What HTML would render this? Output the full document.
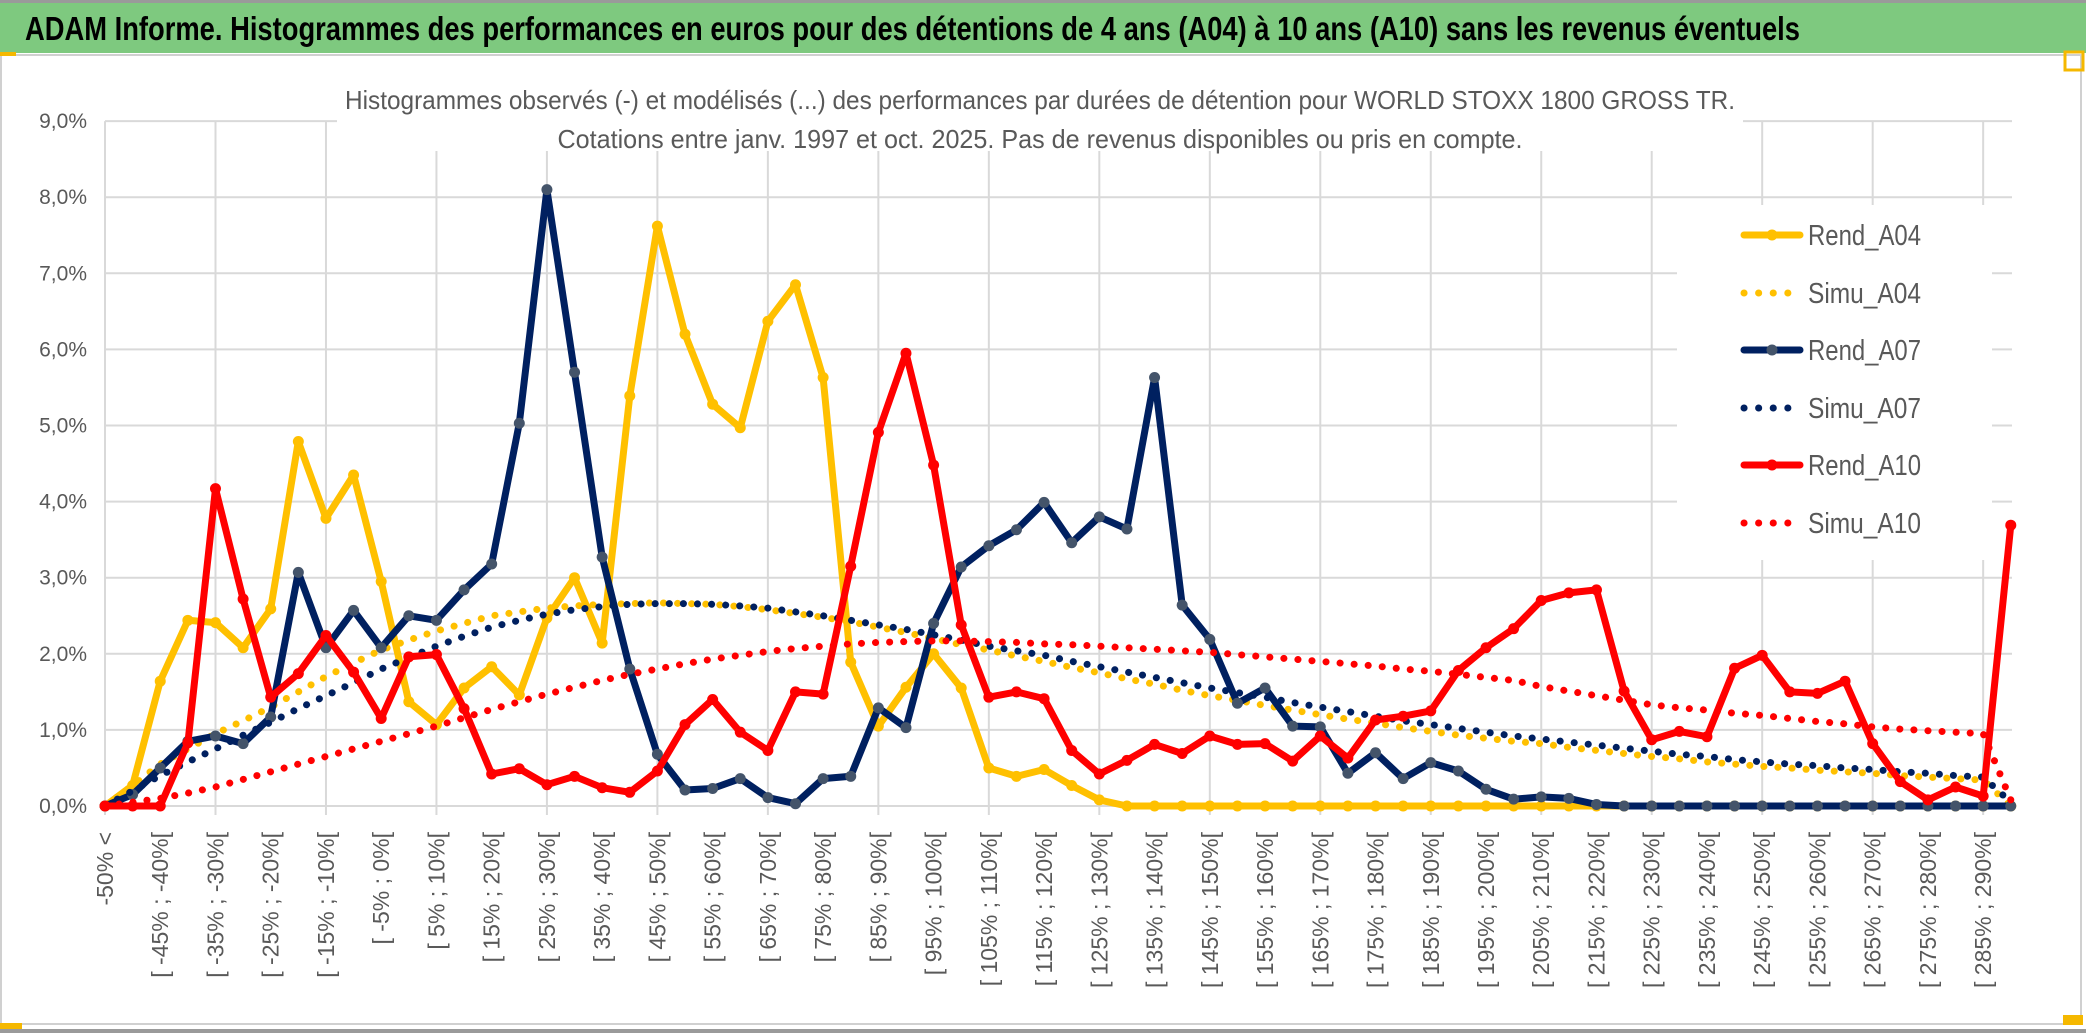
<!DOCTYPE html>
<html><head><meta charset="utf-8"><style>
html,body{margin:0;padding:0;background:#fff;}
svg{display:block;font-family:"Liberation Sans",sans-serif;}
</style></head><body>
<svg id="chart" width="2086" height="1033" viewBox="0 0 2086 1033">
  <rect x="0" y="0" width="2086" height="1033" fill="#fff"/>
  <rect x="0" y="0" width="2086" height="3" fill="#9a9a9a"/>
  <rect x="0" y="3" width="2086" height="50" fill="#7ec97f"/>
  <text x="25" y="40" font-size="33" font-weight="bold" fill="#000" textLength="1775" lengthAdjust="spacingAndGlyphs">ADAM Informe. Histogrammes des performances en euros pour des détentions de 4 ans (A04) à 10 ans (A10) sans les revenus éventuels</text>
  <rect x="1" y="55" width="2080" height="969" fill="none" stroke="#d0d0d0" stroke-width="2"/>
  <rect x="0" y="1029" width="2086" height="4" fill="#9a9a9a"/>
  <rect x="0" y="52" width="16" height="4" fill="#f5b800"/>
  <rect x="0" y="1023" width="22" height="6" fill="#f5b800"/>
  <rect x="2065" y="52" width="18" height="18" fill="none" stroke="#f5b800" stroke-width="3"/>
  <rect x="2063" y="1015" width="20" height="10" fill="#f5b800"/>
  <g id="grid"></g>
  <g id="yaxis"></g>
  <g id="xaxis"></g>
  <rect x="337" y="57" width="1406" height="94" fill="#fff"/>
  <text x="1040" y="109" font-size="26" fill="#595959" text-anchor="middle" textLength="1390" lengthAdjust="spacingAndGlyphs">Histogrammes observés (-) et modélisés (...) des performances par durées de détention pour WORLD STOXX 1800 GROSS TR.</text>
  <text x="1040" y="148" font-size="26" fill="#595959" text-anchor="middle" textLength="965" lengthAdjust="spacingAndGlyphs">Cotations entre janv. 1997 et oct. 2025. Pas de revenus disponibles ou pris en compte.</text>
  <g id="series"></g>
  <g id="legend"></g>
</svg>
<script>
const categories = [];
categories.push("-50% <");
for (let k = 1; k < 70; k++) { const a = -50 + 5 * (k - 1); categories.push("[ " + a + "% ; " + (a + 5) + "%["); }
const yTicks = [0,1,2,3,4,5,6,7,8,9];
const yTickLabels = ["0,0%","1,0%","2,0%","3,0%","4,0%","5,0%","6,0%","7,0%","8,0%","9,0%"];
const seriesNames = ["Rend_A04","Simu_A04","Rend_A07","Simu_A07","Rend_A10","Simu_A10"];
const rendA04 = [0,0.27,1.64,2.44,2.41,2.08,2.59,4.79,3.78,4.35,
  2.95,1.37,1.07,1.55,1.83,1.46,2.47,3.0,2.14,5.39,
  7.62,6.2,5.28,4.97,6.37,6.85,5.63,1.89,1.05,1.56,
  2.0,1.55,0.5,0.39,0.48,0.27,0.08,0,0,0,
  0,0,0,0,0,0,0,0,0,0,
  0,0,0,0,0,0,0,0,0,0,
  0,0,0,0,0,0,0,0,0,0];
const simuA04 = [0,0.27,0.55,0.75,0.95,1.12,1.3,1.5,1.7,1.88,
  2.05,2.18,2.3,2.4,2.5,2.55,2.6,2.63,2.65,2.66,
  2.67,2.66,2.65,2.62,2.58,2.53,2.48,2.42,2.35,2.28,
  2.2,2.12,2.05,1.97,1.9,1.82,1.75,1.67,1.6,1.52,
  1.45,1.39,1.32,1.26,1.2,1.14,1.09,1.03,0.98,0.93,
  0.89,0.85,0.82,0.77,0.73,0.69,0.65,0.62,0.58,0.55,
  0.52,0.5,0.47,0.45,0.43,0.4,0.38,0.36,0.34,0];
const rendA07 = [0,0.15,0.5,0.85,0.92,0.82,1.17,3.07,2.08,2.57,
  2.08,2.5,2.44,2.84,3.18,5.03,8.1,5.7,3.27,1.8,
  0.68,0.21,0.23,0.36,0.11,0.03,0.36,0.39,1.29,1.03,
  2.4,3.14,3.42,3.63,3.99,3.46,3.8,3.64,5.63,2.64,
  2.19,1.35,1.55,1.05,1.04,0.43,0.7,0.36,0.57,0.46,
  0.22,0.09,0.12,0.1,0.02,0,0,0,0,0,
  0,0,0,0,0,0,0,0,0,0];
const simuA07 = [0,0.2,0.4,0.58,0.75,0.93,1.1,1.28,1.45,1.62,
  1.8,1.95,2.1,2.23,2.35,2.44,2.52,2.58,2.62,2.65,
  2.66,2.66,2.65,2.63,2.6,2.55,2.5,2.44,2.38,2.32,
  2.25,2.18,2.1,2.04,1.98,1.9,1.83,1.76,1.69,1.62,
  1.55,1.49,1.43,1.36,1.3,1.24,1.18,1.12,1.07,1.02,
  0.97,0.92,0.88,0.84,0.8,0.76,0.72,0.68,0.65,0.61,
  0.58,0.55,0.53,0.5,0.48,0.45,0.43,0.4,0.38,0.05];
const rendA10 = [0,0,0,0.83,4.17,2.72,1.43,1.74,2.24,1.76,
  1.15,1.96,1.99,1.28,0.42,0.49,0.28,0.39,0.24,0.18,
  0.46,1.07,1.4,0.97,0.73,1.5,1.47,3.15,4.91,5.95,
  4.48,2.38,1.43,1.5,1.41,0.73,0.42,0.6,0.81,0.69,
  0.92,0.81,0.82,0.59,0.92,0.63,1.13,1.18,1.25,1.78,
  2.08,2.33,2.7,2.8,2.84,1.51,0.87,0.98,0.91,1.81,
  1.98,1.5,1.48,1.64,0.82,0.32,0.08,0.25,0.13,3.69];
const simuA10 = [0,0.05,0.1,0.17,0.25,0.35,0.45,0.55,0.65,0.75,
  0.85,0.95,1.05,1.16,1.27,1.37,1.47,1.56,1.65,1.73,
  1.8,1.87,1.93,1.98,2.03,2.07,2.1,2.13,2.15,2.16,
  2.17,2.17,2.16,2.15,2.13,2.12,2.1,2.08,2.06,2.04,
  2.02,1.99,1.96,1.93,1.9,1.87,1.84,1.8,1.77,1.73,
  1.69,1.65,1.57,1.51,1.45,1.39,1.33,1.29,1.26,1.22,
  1.19,1.15,1.11,1.08,1.04,1.01,0.99,0.97,0.95,0.08];

const NS = "http://www.w3.org/2000/svg";
const X0 = 105, DX = 27.62, Y0 = 806, DY = 76.1;
function xScale(i){ return X0 + DX * i; }
function yScale(v){ return Y0 - DY * v; }
function mk(tag, attrs, parent){ const e = document.createElementNS(NS, tag); for (const k in attrs) e.setAttribute(k, attrs[k]); parent.appendChild(e); return e; }

const grid = document.getElementById("grid");
const plotRight = 2012;
yTicks.forEach(function(t){
  const l = mk("line", {x1: X0, x2: plotRight, y1: yScale(t), y2: yScale(t), stroke: "#d9d9d9", "stroke-width": 2}, grid);
  
  
});
for (let i = 0; i < categories.length; i += 4) {
  const l = mk("line", {x1: xScale(i), x2: xScale(i), y1: yScale(9), y2: Y0 + 9, stroke: "#d9d9d9", "stroke-width": 2}, grid);
  
  
}
const yaxis = document.getElementById("yaxis");
yTicks.forEach(function(t, k){
  const tx = mk("text", {x: 87, y: yScale(t) + 7, "font-size": 21, fill: "#595959", "text-anchor": "end"}, yaxis);
  tx.textContent = yTickLabels[k];
  
  
});
const xaxis = document.getElementById("xaxis");
categories.forEach(function(c, i){
  if (i % 2 !== 0) return;
  const xx = xScale(i) + 8;
  const tx = mk("text", {x: xx, y: 832, "font-size": 23, fill: "#595959", "text-anchor": "end", transform: "rotate(-90 " + xx + " 832)"}, xaxis);
  tx.textContent = c;
  
  
});

const seriesG = document.getElementById("series");
const seriesData = [rendA04, simuA04, rendA07, simuA07, rendA10, simuA10];
const lineColors = ["#ffc000","#ffc000","#002060","#002060","#ff0000","#ff0000"];
const markerColors = ["#ffc000",null,"#44546a",null,"#ff0000",null];

const legend = document.getElementById("legend");
const lbg = mk("rect", {x: 1677, y: 205, width: 315, height: 355, fill: "#fff"}, grid);



seriesData.forEach(function(arr, s){
  const pts = arr.map(function(v, i){ return xScale(i).toFixed(1) + "," + yScale(v).toFixed(1); }).join(" ");
  const solid = markerColors[s] !== null;
  const pl = mk("polyline", {points: pts, fill: "none", stroke: lineColors[s], "stroke-width": 7, "stroke-linejoin": "round", "stroke-linecap": "round"}, seriesG);
  if (!solid) pl.setAttribute("stroke-dasharray", "0.1 14");
  
  
  if (solid) {
    arr.forEach(function(v, i){
      const c = mk("circle", {cx: xScale(i), cy: yScale(v), r: 5.5, fill: markerColors[s]}, seriesG);
      
      
    });
  }
});

const legendY = [235, 293, 350, 408, 465, 523];
seriesNames.forEach(function(n, s){
  const y = legendY[s];
  const solid = markerColors[s] !== null;
  const ln = mk("line", {x1: 1744, x2: 1800, y1: y, y2: y, stroke: lineColors[s], "stroke-width": 7, "stroke-linecap": "round"}, legend);
  if (!solid) ln.setAttribute("stroke-dasharray", "0.1 14.5");
  
  
  if (solid) {
    const c = mk("circle", {cx: 1772, cy: y, r: 5.5, fill: markerColors[s]}, legend);
    
    
  }
  const tx = mk("text", {x: 1808, y: y + 10, "font-size": 29, fill: "#595959", textLength: 113, lengthAdjust: "spacingAndGlyphs"}, legend);
  tx.textContent = n;
  
  
});
</script>
</body></html>
